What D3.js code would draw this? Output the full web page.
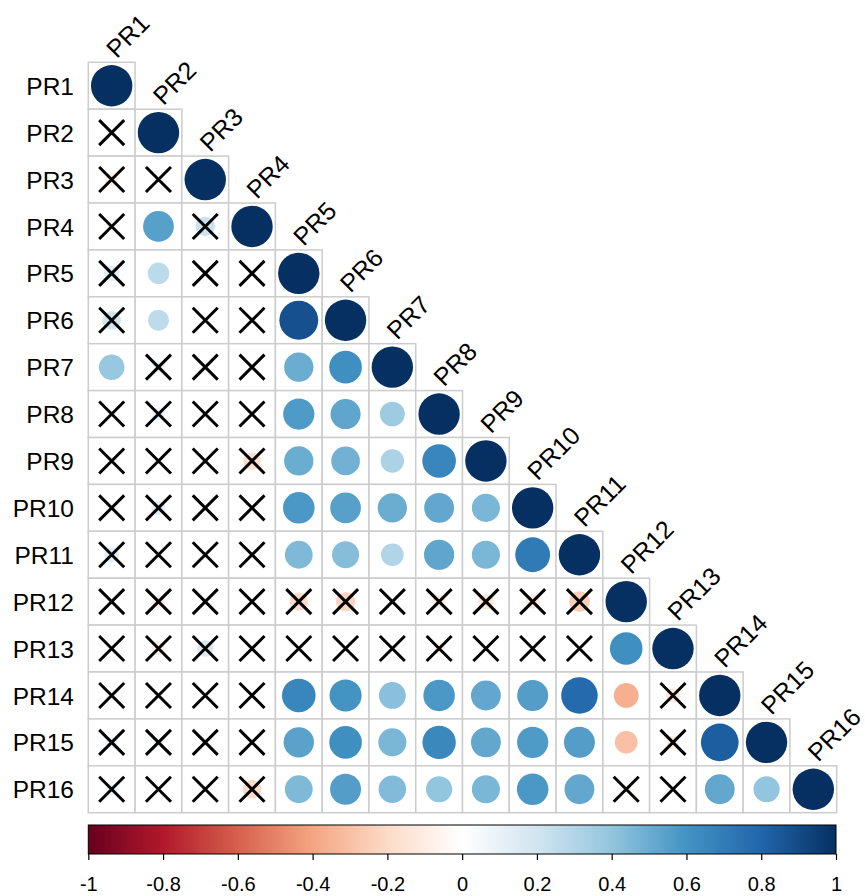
<!DOCTYPE html>
<html>
<head>
<meta charset="utf-8">
<script src="https://cdn.jsdelivr.net/npm/d3@7"></script>
<style>
  html, body { margin: 0; padding: 0; background: #ffffff; }
  svg { display: block; }
  text { font-family: "Liberation Sans", Arial, sans-serif; fill: #000; }
</style>
</head>
<body>
<svg id="chart" width="865" height="896"></svg>
<script>
// Variable names
const labels = ["PR1","PR2","PR3","PR4","PR5","PR6","PR7","PR8",
                "PR9","PR10","PR11","PR12","PR13","PR14","PR15","PR16"];

// Lower-triangle correlation coefficients, one row per variable
const corrRows = [
  [1],
  [0.02, 1],
  [-0.10, 0.00, 1],
  [-0.06, 0.55, 0.22, 1],
  [0.14, 0.27, 0.00, 0.01, 1],
  [0.20, 0.26, -0.03, 0.01, 0.88, 1],
  [0.38, 0.08, -0.03, 0.05, 0.50, 0.62, 1],
  [0.02, 0.10, 0.00, 0.02, 0.57, 0.53, 0.36, 1],
  [0.05, 0.01, 0.00, -0.18, 0.50, 0.48, 0.32, 0.66, 1],
  [0.02, 0.12, 0.00, 0.01, 0.58, 0.55, 0.50, 0.52, 0.46, 1],
  [0.13, 0.05, 0.00, -0.04, 0.45, 0.43, 0.30, 0.53, 0.46, 0.71, 1],
  [0.01, -0.10, 0.00, 0.00, -0.20, -0.22, 0.00, -0.10, -0.14, -0.12, -0.25, 1],
  [0.02, -0.10, 0.16, -0.05, 0.00, 0.01, 0.00, -0.08, 0.00, 0.01, 0.00, 0.62, 1],
  [0.07, 0.05, 0.00, 0.00, 0.66, 0.60, 0.42, 0.58, 0.52, 0.56, 0.78, -0.36, -0.12, 1],
  [0.08, 0.06, -0.04, 0.00, 0.54, 0.62, 0.46, 0.65, 0.52, 0.57, 0.56, -0.30, -0.10, 0.83, 1],
  [0.08, 0.01, 0.00, -0.20, 0.45, 0.56, 0.44, 0.40, 0.46, 0.58, 0.52, -0.06, 0.00, 0.52, 0.40, 1]
];

// 1 = not significant (marked with a cross)
const insigRows = [
  [0],
  [1, 0],
  [1, 1, 0],
  [1, 0, 1, 0],
  [1, 0, 1, 1, 0],
  [1, 0, 1, 1, 0, 0],
  [0, 1, 1, 1, 0, 0, 0],
  [1, 1, 1, 1, 0, 0, 0, 0],
  [1, 1, 1, 1, 0, 0, 0, 0, 0],
  [1, 1, 1, 1, 0, 0, 0, 0, 0, 0],
  [1, 1, 1, 1, 0, 0, 0, 0, 0, 0, 0],
  [1, 1, 1, 1, 1, 1, 1, 1, 1, 1, 1, 0],
  [1, 1, 1, 1, 1, 1, 1, 1, 1, 1, 1, 0, 0],
  [1, 1, 1, 1, 0, 0, 0, 0, 0, 0, 0, 0, 1, 0],
  [1, 1, 1, 1, 0, 0, 0, 0, 0, 0, 0, 0, 1, 0, 0],
  [1, 1, 1, 1, 0, 0, 0, 0, 0, 0, 0, 1, 1, 0, 0, 0]
];

// Diverging palette and colour-bar ticks
const paletteColors = ["#67001F","#B2182B","#D6604D","#F4A582","#FDDBC7","#FFFFFF",
                       "#D1E5F0","#92C5DE","#4393C3","#2166AC","#053061"];
const barTicks = [-1, -0.8, -0.6, -0.4, -0.2, 0, 0.2, 0.4, 0.6, 0.8, 1];
const barTickLabels = ["-1","-0.8","-0.6","-0.4","-0.2","0","0.2","0.4","0.6","0.8","1"];

const svg = d3.select("#chart");

const gridLeft = 88.3, gridRight = 836.7, gridTop = 62.3, gridBottom = 812.7;
const x = d3.scaleBand().domain(labels).range([gridLeft, gridRight]).padding(0);
const y = d3.scaleBand().domain(labels).range([gridTop, gridBottom]).padding(0);
const color = d3.scaleLinear()
  .domain(d3.range(paletteColors.length).map(i => -1 + 2 * i / (paletteColors.length - 1)))
  .range(paletteColors)
  .interpolate(d3.interpolateRgb);
const radius = d3.scaleSqrt().domain([0, 1]).range([0, 20.7]);

// Flatten lower triangle into cells
const cells = [];
corrRows.forEach((row, i) => {
  row.forEach((v, j) => {
    cells.push({ row: labels[i], col: labels[j], r: v, insig: insigRows[i][j] === 1 });
  });
});

const bw = x.bandwidth(), bh = y.bandwidth();

// Cell backgrounds and borders
svg.append("g").selectAll("rect")
  .data(cells)
  .join("rect")
  .attr("x", d => x(d.col))
  .attr("y", d => y(d.row))
  .attr("width", bw)
  .attr("height", bh)
  .attr("fill", "#ffffff")
  .attr("stroke", "#cccccc")
  .attr("stroke-width", 1.5);

// Circles: area proportional to |r|
svg.append("g").selectAll("circle")
  .data(cells)
  .join("circle")
  .attr("cx", d => x(d.col) + bw / 2)
  .attr("cy", d => y(d.row) + bh / 2)
  .attr("r", d => radius(Math.abs(d.r)))
  .attr("fill", d => color(d.r));

// Crosses over non-significant cells
const crossHalf = 12.5;
const crossG = svg.append("g")
  .attr("stroke", "#000")
  .attr("stroke-width", 3)
  .attr("fill", "none");
crossG.selectAll("path")
  .data(cells.filter(d => d.insig))
  .join("path")
  .attr("d", d => {
    const cx = x(d.col) + bw / 2, cy = y(d.row) + bh / 2;
    return `M${cx - crossHalf},${cy - crossHalf}L${cx + crossHalf},${cy + crossHalf}` +
           `M${cx - crossHalf},${cy + crossHalf}L${cx + crossHalf},${cy - crossHalf}`;
  });

// Row labels
svg.append("g").selectAll("text")
  .data(labels)
  .join("text")
  .attr("x", 74)
  .attr("y", d => y(d) + bh / 2)
  .attr("dy", "0.37em")
  .attr("text-anchor", "end")
  .attr("font-size", 24.5)
  .text(d => d);

// Column labels along the diagonal, rotated 45 degrees
svg.append("g").selectAll("text")
  .data(labels)
  .join("text")
  .attr("transform", d => `translate(${x(d) + bw / 2 + 5},${y(d) - 3}) rotate(-45)`)
  .attr("text-anchor", "start")
  .attr("font-size", 25)
  .text(d => d);

// Colour bar
const barLeft = 88.3, barRight = 836, barTop = 825, barBottom = 854;
const defs = svg.append("defs");
const grad = defs.append("linearGradient")
  .attr("id", "corrGrad")
  .attr("x1", "0%").attr("x2", "100%").attr("y1", "0%").attr("y2", "0%");
grad.selectAll("stop")
  .data(paletteColors)
  .join("stop")
  .attr("offset", (d, i) => (100 * i / (paletteColors.length - 1)) + "%")
  .attr("stop-color", d => d);

svg.append("rect")
  .attr("x", barLeft)
  .attr("y", barTop)
  .attr("width", barRight - barLeft)
  .attr("height", barBottom - barTop)
  .attr("fill", "url(#corrGrad)")
  .attr("stroke", "#000")
  .attr("stroke-width", 1);

const barScale = d3.scaleLinear().domain([-1, 1]).range([barLeft, barRight]);
const barAxis = d3.axisBottom(barScale)
  .tickValues(barTicks)
  .tickFormat((d, i) => barTickLabels[i])
  .tickSize(6)
  .tickPadding(17);
const axG = svg.append("g")
  .attr("transform", `translate(0,${barBottom})`)
  .call(barAxis);
axG.select(".domain").remove();
axG.selectAll(".tick line").attr("stroke", "#000").attr("stroke-width", 1.2);
axG.selectAll(".tick text")
  .attr("font-size", 20)
  .attr("font-family", "'Liberation Sans', Arial, sans-serif")
  .attr("fill", "#000");
</script>
</body>
</html>
